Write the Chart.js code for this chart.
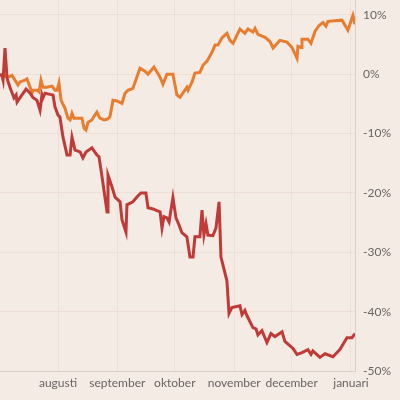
<!DOCTYPE html>
<html>
<head>
<meta charset="utf-8">
<script src="https://cdn.jsdelivr.net/npm/chart.js@4"></script>
<style>
  html, body { margin: 0; padding: 0; background: #f5ebe5; }
  canvas { display: block; }
</style>
</head>
<body>
<canvas id="chart" width="400" height="400"></canvas>
<script>
// days counted from 1 July, values in percent
const orangeDays = [0.7, 2.3, 3.3, 4.9, 7.0, 8.5, 10.1, 11.1, 13.8, 14.8, 16.4, 17.4, 17.9, 20.0, 21.1, 22.1, 23.1, 25.2, 27.9, 29.4, 30.5, 31.5, 32.6, 34.6, 36.2, 37.3, 38.3, 39.3, 40.9, 43.5, 44.6, 45.6, 46.7, 48.7, 49.8, 51.3, 52.9, 55.0, 56.6, 58.1, 59.7, 61.8, 64.4, 66.0, 67.5, 70.1, 73.8, 76.4, 78.0, 81.1, 84.3, 85.8, 87.9, 91.0, 93.1, 94.7, 98.3, 98.9, 101.0, 102.5, 105.1, 106.7, 108.8, 111.4, 113.0, 114.5, 116.6, 119.2, 120.8, 122.4, 126.0, 128.6, 130.2, 132.8, 133.9, 135.4, 139.1, 141.7, 143.3, 146.9, 150.6, 153.2, 155.8, 156.3, 157.9, 158.4, 161.5, 163.1, 165.2, 167.3, 169.4, 170.9, 172.0, 179.3, 182.4, 185.0, 186.1];
const orangeValues = [0.0, -0.5, -0.2, -0.5, -0.2, -1.0, -1.8, -1.3, -1.0, -0.8, -2.2, -3.2, -2.7, -2.7, -3.0, -1.0, -2.2, -2.2, -2.0, -2.7, -2.7, -1.5, -4.4, -5.7, -7.4, -7.7, -6.6, -7.4, -7.4, -7.4, -9.1, -9.4, -8.1, -7.7, -7.1, -6.4, -7.4, -7.7, -7.6, -7.2, -4.4, -4.5, -4.9, -3.2, -2.7, -2.4, 1.0, 0.5, 0.0, 1.2, -0.5, -1.7, 0.0, 0.0, -3.5, -3.9, -2.2, -2.7, -1.3, 0.2, 0.3, 1.5, 2.2, 3.7, 4.9, 4.9, 6.1, 6.9, 5.7, 5.2, 7.6, 6.9, 7.6, 7.1, 7.7, 6.7, 6.2, 5.5, 4.4, 5.7, 5.4, 4.5, 2.7, 4.7, 4.5, 5.9, 5.9, 5.2, 7.2, 8.2, 8.7, 8.1, 8.9, 9.1, 7.4, 9.9, 8.4];

const redDays = [0.7, 1.7, 2.3, 3.3, 4.4, 5.9, 8.0, 9.1, 9.6, 11.1, 14.3, 16.4, 17.9, 20.0, 21.6, 22.6, 23.1, 24.2, 26.8, 28.4, 29.4, 31.0, 32.0, 33.6, 35.7, 37.3, 38.3, 39.9, 42.5, 44.0, 45.6, 48.7, 51.3, 52.4, 54.0, 56.6, 57.1, 59.2, 60.8, 63.4, 64.4, 66.5, 67.0, 70.1, 72.2, 74.3, 76.9, 78.0, 80.6, 82.7, 84.3, 85.3, 86.3, 87.9, 89.0, 91.0, 92.6, 94.2, 95.7, 98.3, 99.9, 101.5, 102.5, 105.1, 106.2, 107.2, 108.3, 109.3, 111.9, 113.5, 115.1, 116.1, 119.2, 120.3, 121.8, 126.0, 127.1, 128.6, 129.7, 132.8, 134.4, 135.4, 137.5, 140.1, 142.2, 144.3, 148.0, 149.5, 153.7, 155.8, 158.4, 161.5, 163.1, 164.1, 167.8, 170.4, 174.6, 178.2, 181.9, 184.5, 186.1];
const redValues = [0.0, -0.2, -1.0, 4.4, -0.7, -2.2, -4.0, -3.5, -4.7, -4.0, -2.5, -3.2, -3.9, -4.4, -6.1, -3.5, -4.0, -3.2, -3.4, -3.5, -5.5, -6.9, -7.2, -10.6, -13.6, -13.6, -10.6, -12.8, -13.1, -14.1, -13.1, -12.4, -13.6, -13.9, -17.3, -23.2, -17.0, -19.0, -20.7, -21.5, -24.5, -26.6, -22.0, -21.5, -20.7, -20.0, -20.0, -22.5, -22.7, -23.0, -23.2, -25.9, -24.0, -24.2, -24.9, -20.8, -24.2, -25.4, -26.7, -27.4, -30.8, -30.8, -27.4, -27.4, -22.9, -27.1, -25.2, -27.1, -27.2, -25.9, -21.5, -30.8, -34.8, -40.3, -39.3, -39.0, -40.5, -39.8, -40.7, -42.7, -42.9, -43.9, -43.2, -45.2, -43.7, -44.2, -43.4, -45.0, -46.2, -47.2, -46.9, -46.4, -47.2, -46.6, -47.7, -47.1, -47.6, -46.4, -44.4, -44.4, -43.7];

const monthTicks = [31, 62, 92, 123, 153, 184];
const monthLabels = ['augusti', 'september', 'oktober', 'november', 'december', 'januari'];
const yTicks = [10, 0, -10, -20, -30, -40, -50];
const yLabels = ['10%', '0%', '-10%', '-20%', '-30%', '-40%', '-50%'];

const toPoints = (days, values) => days.map((d, i) => ({ x: d, y: values[i] }));

const gridColor = 'rgba(226, 204, 186, 0.35)';
const axisColor = '#dccfc7';

new Chart(document.getElementById('chart'), {
    type: 'line',
    data: {
        datasets: [
            {
                data: toPoints(redDays, redValues),
                borderColor: '#c03a37',
                borderWidth: 3,
                pointRadius: 0,
                tension: 0,
                order: 0
            },
            {
                data: toPoints(orangeDays, orangeValues),
                borderColor: '#e87d30',
                borderWidth: 3,
                pointRadius: 0,
                tension: 0,
                order: 1
            }
        ]
    },
    options: {
        responsive: false,
        animation: false,
        layout: { padding: 0 },
        plugins: {
            legend: { display: false },
            tooltip: { enabled: false }
        },
        scales: {
            x: {
                type: 'linear',
                min: 0.7,
                max: 186.1,
                afterBuildTicks: (axis) => { axis.ticks = monthTicks.map(v => ({ value: v })); },
                afterFit: (axis) => {
                    axis.height = 29;
                    axis.paddingLeft = 0;
                    axis.paddingRight = 0;
                },
                ticks: {
                    autoSkip: false,
                    maxRotation: 0,
                    padding: 5,
                    color: '#6a6462',
                    font: { family: 'Lato', size: 12 },
                    callback: (v) => monthLabels[monthTicks.indexOf(v)]
                },
                grid: { color: gridColor, drawTicks: false },
                border: { color: axisColor, width: 1 }
            },
            y: {
                position: 'right',
                min: -50,
                max: 12.5,
                afterBuildTicks: (axis) => { axis.ticks = yTicks.map(v => ({ value: v })); },
                afterFit: (axis) => {
                    axis.width = 45;
                    axis.paddingTop = 0;
                    axis.paddingBottom = 0;
                },
                ticks: {
                    padding: 8,
                    color: '#6a6462',
                    font: { family: 'Lato', size: 12 },
                    callback: (v) => yLabels[yTicks.indexOf(v)]
                },
                grid: { color: gridColor, drawTicks: false },
                border: { color: axisColor, width: 1 }
            }
        }
    }
});
</script>
</body>
</html>
